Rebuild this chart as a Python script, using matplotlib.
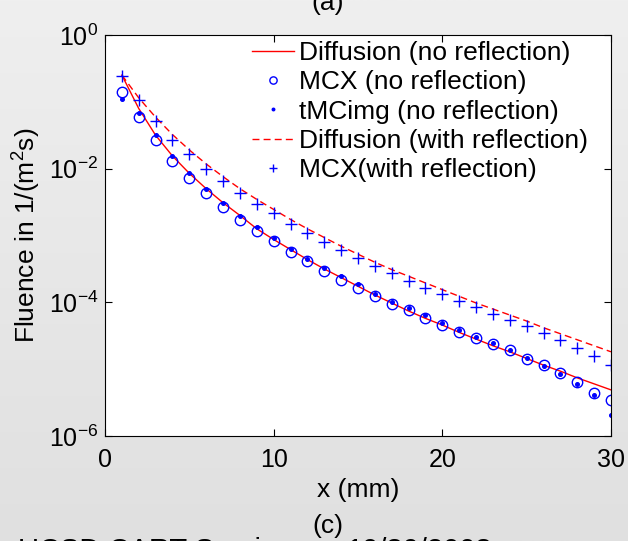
import numpy as np
import matplotlib
matplotlib.use("Agg")
import matplotlib.pyplot as plt
from matplotlib.ticker import FixedLocator, FuncFormatter, NullLocator

plt.rcParams['font.family'] = ['Liberation Sans', 'DejaVu Sans']
plt.rcParams['mathtext.fontset'] = 'custom'
plt.rcParams['mathtext.rm'] = 'Liberation Sans'
plt.rcParams['mathtext.it'] = 'Liberation Sans:italic'
plt.rcParams['mathtext.bf'] = 'Liberation Sans:bold'

# data (log10 of fluence)
x_mm = np.arange(1, 31)
log_diff_noref = [-0.60, -1.10, -1.50, -1.81, -2.07, -2.30, -2.51, -2.70, -2.90, -3.06,
                  -3.21, -3.36, -3.50, -3.63, -3.76, -3.89, -4.01, -4.13, -4.24, -4.34,
                  -4.45, -4.55, -4.65, -4.74, -4.84, -4.94, -5.03, -5.13, -5.22, -5.31]
log_mcx_noref = [-0.85, -1.22, -1.57, -1.88, -2.14, -2.36, -2.58, -2.77, -2.94, -3.08,
                 -3.24, -3.38, -3.53, -3.66, -3.78, -3.91, -4.02, -4.12, -4.23, -4.34,
                 -4.44, -4.54, -4.63, -4.72, -4.85, -4.94, -5.06, -5.19, -5.35, -5.46]
log_tmc_noref = [-0.96, -1.17, -1.50, -1.81, -2.06, -2.31, -2.51, -2.71, -2.88, -3.03,
                 -3.20, -3.35, -3.49, -3.61, -3.73, -3.87, -3.99, -4.09, -4.19, -4.31,
                 -4.41, -4.52, -4.61, -4.72, -4.83, -4.95, -5.07, -5.22, -5.39, -5.69]
log_diff_ref = [-0.60, -0.94, -1.23, -1.49, -1.72, -1.93, -2.12, -2.30, -2.46, -2.61,
                -2.76, -2.90, -3.03, -3.16, -3.28, -3.40, -3.51, -3.61, -3.71, -3.81,
                -3.91, -4.01, -4.10, -4.19, -4.28, -4.38, -4.47, -4.56, -4.65, -4.74]
log_mcx_ref = [-0.61, -0.98, -1.28, -1.57, -1.78, -2.00, -2.18, -2.37, -2.53, -2.67,
               -2.83, -2.96, -3.09, -3.21, -3.33, -3.46, -3.56, -3.68, -3.78, -3.87,
               -3.98, -4.07, -4.17, -4.27, -4.36, -4.46, -4.57, -4.68, -4.80, -4.94]

labels = ['Diffusion (no reflection)', 'MCX (no reflection)', 'tMCimg (no reflection)',
          'Diffusion (with reflection)', 'MCX(with reflection)']
x_ticks = [0, 10, 20, 30]
y_ticks = [1e-6, 1e-4, 1e-2, 1e0]

fig = plt.figure(figsize=(6.28, 5.41), dpi=100)

# slide background gradient
bg = fig.add_axes([0, 0, 1, 1], zorder=-10)
grad = np.linspace(0, 1, 256).reshape(-1, 1)
bg.imshow(grad, cmap=matplotlib.colors.LinearSegmentedColormap.from_list(
    'bg', ['#efefef', '#e0e0e0']), aspect='auto', extent=[0, 1, 0, 1], origin='upper')
bg.axis('off')

ax = fig.add_axes([0.1672, 0.1941, 0.8057, 0.7412])
ax.set_facecolor('white')

ax.semilogy(x_mm, 10 ** np.array(log_diff_noref), color='red', lw=1.0, label=labels[0])
ax.semilogy(x_mm, 10 ** np.array(log_mcx_noref), 'o', mfc='none', mec='blue', ms=7.5,
            mew=1.0, label=labels[1])
ax.semilogy(x_mm, 10 ** np.array(log_tmc_noref), 'o', color='blue', ms=2.6, label=labels[2])
ax.semilogy(x_mm, 10 ** np.array(log_diff_ref), color='red', lw=1.0, ls=(0, (5, 3)),
            label=labels[3])
ax.semilogy(x_mm, 10 ** np.array(log_mcx_ref), '+', color='blue', ms=8, mew=1.0,
            label=labels[4])

ax.set_xlim(0, 30)
ax.set_ylim(1e-6, 1e0)
ax.xaxis.set_major_locator(FixedLocator(x_ticks))
ax.yaxis.set_major_locator(FixedLocator(y_ticks))
ax.yaxis.set_minor_locator(NullLocator())
ax.yaxis.set_major_formatter(FuncFormatter(lambda v, p: r'$10^{%d}$' % round(np.log10(v))))
ax.tick_params(direction='in', length=5, width=0.8, top=True, right=True, labelsize=18,
               colors='black')
ax.tick_params(axis='x', pad=9)
ax.tick_params(axis='y', pad=5)
for s in ax.spines.values():
    s.set_linewidth(0.8)

ax.set_xlabel('x (mm)', fontsize=19, labelpad=4)
ax.set_ylabel(r'Fluence in 1/(m$^2$s)', fontsize=19, labelpad=4)

ax.legend(loc='upper left', bbox_to_anchor=(0.29, 0.985), frameon=False, fontsize=19,
          borderpad=0, borderaxespad=0, handlelength=1.6, handletextpad=0.2,
          labelspacing=0.2, markerscale=0.7)

fig.text(0.522, 0.9815, '(a)', fontsize=19, ha='center', va='baseline')
fig.text(0.522, 0.0148, '(c)', fontsize=19, ha='center', va='baseline')
# slide footer, mostly below the bottom edge as in the reference
fig.text(0.028, -0.034, 'UCSD CART Seminar', fontsize=21, ha='left', va='baseline',
         zorder=-5)
fig.text(0.552, -0.034, '10/30/2008', fontsize=21, ha='left', va='baseline', zorder=-5)

fig.savefig('out.png', dpi=100)
